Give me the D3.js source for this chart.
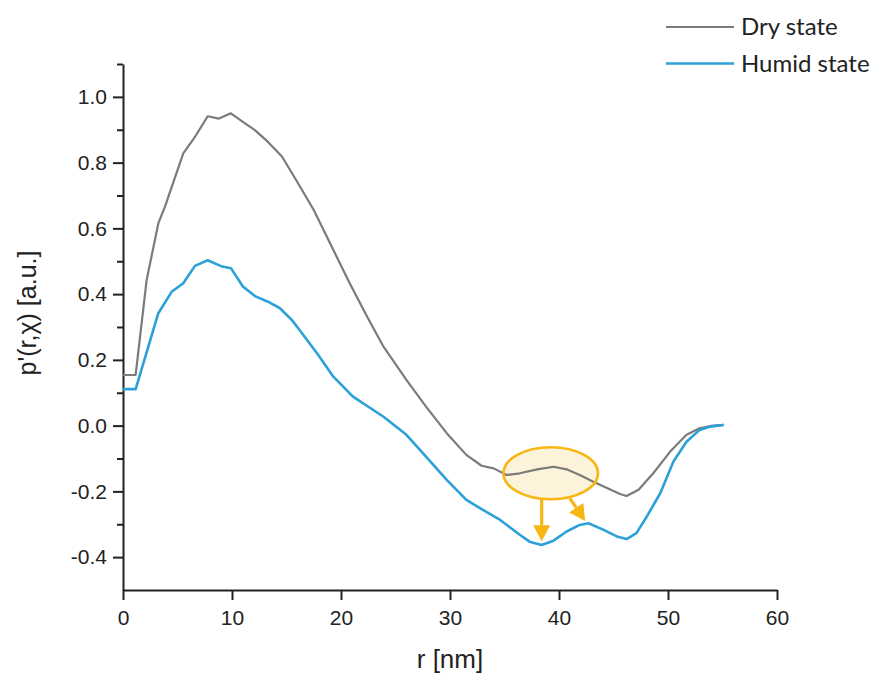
<!DOCTYPE html>
<html>
<head>
<meta charset="utf-8">
<script src="https://cdn.jsdelivr.net/npm/d3@7"></script>
<style>
  body { margin: 0; background: #fff; }
  svg { display: block; }
</style>
</head>
<body>
<svg id="chart" width="877" height="673"></svg>
<script>
// Pair-distance distribution p'(r,χ), dry vs humid
const dryR = [0, 1.16, 2.17, 3.24, 3.85, 5.53, 6.6, 7.77, 8.8, 9.9, 11.0, 12.1, 13.3, 14.6, 16.1, 17.5,
  19.3, 20.8, 22.4, 23.9, 26.0, 27.8, 29.7, 31.5, 32.9, 34.0, 35.2, 36.4, 38.0, 39.5, 40.7, 41.9,
  43.1, 44.4, 45.6, 46.2, 47.3, 48.65, 50.2, 51.7, 52.9, 53.9, 55.1];
const dryP = [0.154, 0.154, 0.443, 0.615, 0.666, 0.828, 0.878, 0.941, 0.934, 0.95, 0.924, 0.899, 0.863, 0.818, 0.735, 0.656,
  0.534, 0.433, 0.331, 0.24, 0.139, 0.058, -0.023, -0.089, -0.122, -0.13, -0.15, -0.145, -0.133, -0.125, -0.133, -0.15,
  -0.17, -0.19, -0.208, -0.214, -0.195, -0.145, -0.079, -0.028, -0.008, -0.001, 0.002];

const humidR = [0, 1.16, 3.24, 4.46, 5.53, 6.6, 7.77, 9.0, 9.9, 11.0, 12.1, 13.3, 14.4, 15.5, 16.2, 17.8,
  19.3, 21.1, 23.9, 26.0, 27.8, 29.7, 31.5, 32.75, 34.6, 36.4, 37.3, 38.4, 39.5, 40.7, 41.9, 42.7,
  44.1, 45.3, 46.2, 47.1, 48.05, 49.3, 50.5, 51.7, 52.9, 53.9, 55.1];
const humidP = [0.111, 0.111, 0.342, 0.407, 0.433, 0.486, 0.503, 0.485, 0.479, 0.423, 0.394, 0.377, 0.357, 0.321, 0.291, 0.22,
  0.149, 0.088, 0.027, -0.028, -0.094, -0.165, -0.226, -0.251, -0.287, -0.332, -0.353, -0.363, -0.35, -0.322, -0.302, -0.297,
  -0.317, -0.337, -0.345, -0.327, -0.277, -0.205, -0.109, -0.049, -0.013, -0.003, 0.002];

const seriesNames = ["Dry state", "Humid state"];
const xTicks = [0, 10, 20, 30, 40, 50, 60];
const yTicks = [-0.4, -0.2, 0.0, 0.2, 0.4, 0.6, 0.8, 1.0];
const yMinorTicks = [-0.3, -0.1, 0.1, 0.3, 0.5, 0.7, 0.9, 1.1];

// highlighted region (data units) and the arrows pointing from it
const highlightCenter = [39.24, -0.145];
const highlightRadius = [4.34, 0.079];
const arrows = [
  { from: [38.41, -0.226], to: [38.41, -0.352] },
  { from: [41.0, -0.221], to: [42.4, -0.29] }
];

const colors = { dry: "#7b7b7b", humid: "#2ba0d9", mark: "#f7b614", markFill: "#fdf3da", axis: "#222" };

const svg = d3.select("#chart");
const x = d3.scaleLinear().domain([0, 60]).range([123, 777]);
const y = d3.scaleLinear().domain([-0.5, 1.1]).range([590, 64]);

const tickFont = "Arial, 'Liberation Sans', sans-serif";

// x axis
svg.append("g")
  .attr("transform", `translate(0,${y(-0.5)})`)
  .call(d3.axisBottom(x).tickValues(xTicks).tickFormat(d => String(d))
    .tickSize(10).tickSizeOuter(0).tickPadding(10));

// y axis: major + minor ticks
svg.append("g")
  .attr("transform", `translate(${x(0)},0)`)
  .call(d3.axisLeft(y).tickValues(yTicks).tickFormat(d => d.toFixed(1))
    .tickSize(10).tickSizeOuter(0).tickPadding(6));
svg.append("g")
  .attr("transform", `translate(${x(0)},0)`)
  .call(d3.axisLeft(y).tickValues(yMinorTicks).tickFormat("").tickSize(6).tickSizeOuter(0))
  .select(".domain").remove();

svg.selectAll(".domain, .tick line")
  .attr("stroke", colors.axis).attr("stroke-width", 2);
svg.selectAll(".tick text")
  .attr("fill", "#222").attr("font-family", tickFont).attr("font-size", 21)
  .style("font-family", tickFont).style("font-size", "21px");

// axis titles
svg.append("text")
  .attr("x", 450).attr("y", 668)
  .attr("text-anchor", "middle")
  .style("font-family", tickFont).style("font-size", "26px").attr("fill", "#222")
  .text("r [nm]");
svg.append("text")
  .attr("transform", "translate(36,313) rotate(-90)")
  .attr("text-anchor", "middle")
  .style("font-family", tickFont).style("font-size", "25px").attr("fill", "#222")
  .text("p'(r,χ) [a.u.]");

// highlight ellipse fill sits under the curves
const ecx = x(highlightCenter[0]), ecy = y(highlightCenter[1]);
const erx = x(highlightCenter[0] + highlightRadius[0]) - ecx;
const ery = ecy - y(highlightCenter[1] + highlightRadius[1]);
svg.append("ellipse")
  .attr("cx", ecx).attr("cy", ecy).attr("rx", erx).attr("ry", ery)
  .attr("fill", colors.markFill);

// curves
const line = d3.line().x(d => x(d[0])).y(d => y(d[1]));
const dryData = dryR.map((r, i) => [r, dryP[i]]);
const humidData = humidR.map((r, i) => [r, humidP[i]]);

svg.append("path").datum(dryData)
  .attr("d", line).attr("fill", "none")
  .attr("stroke", colors.dry).attr("stroke-width", 2.2).attr("stroke-linejoin", "round");
svg.append("path").datum(humidData)
  .attr("d", line).attr("fill", "none")
  .attr("stroke", colors.humid).attr("stroke-width", 2.6).attr("stroke-linejoin", "round");

// ellipse outline and arrows
svg.append("ellipse")
  .attr("cx", ecx).attr("cy", ecy).attr("rx", erx).attr("ry", ery)
  .attr("fill", "none").attr("stroke", colors.mark).attr("stroke-width", 2.6);

arrows.forEach(a => {
  const x1 = x(a.from[0]), y1 = y(a.from[1]);
  const x2 = x(a.to[0]), y2 = y(a.to[1]);
  const len = Math.hypot(x2 - x1, y2 - y1);
  const ux = (x2 - x1) / len, uy = (y2 - y1) / len;
  const headLen = 16, headHalf = 8.5;
  const bx = x2 - ux * headLen, by = y2 - uy * headLen;
  svg.append("line")
    .attr("x1", x1).attr("y1", y1).attr("x2", bx).attr("y2", by)
    .attr("stroke", colors.mark).attr("stroke-width", 3.2);
  svg.append("path")
    .attr("d", `M${x2},${y2}L${bx - uy * headHalf},${by + ux * headHalf}L${bx + uy * headHalf},${by - ux * headHalf}Z`)
    .attr("fill", colors.mark);
});

// legend
const legendFont = "Lato, 'Open Sans', sans-serif";
const legendRows = [
  { name: seriesNames[0], color: colors.dry, y: 27, base: 35, w: 2.2 },
  { name: seriesNames[1], color: colors.humid, y: 63.5, base: 72, w: 2.6 }
];
legendRows.forEach(row => {
  svg.append("line")
    .attr("x1", 666).attr("x2", 734).attr("y1", row.y).attr("y2", row.y)
    .attr("stroke", row.color).attr("stroke-width", row.w);
  svg.append("text")
    .attr("x", 741).attr("y", row.base)
    .style("font-family", legendFont).style("font-size", "24px").attr("fill", "#222")
    .text(row.name);
});
</script>
</body>
</html>
